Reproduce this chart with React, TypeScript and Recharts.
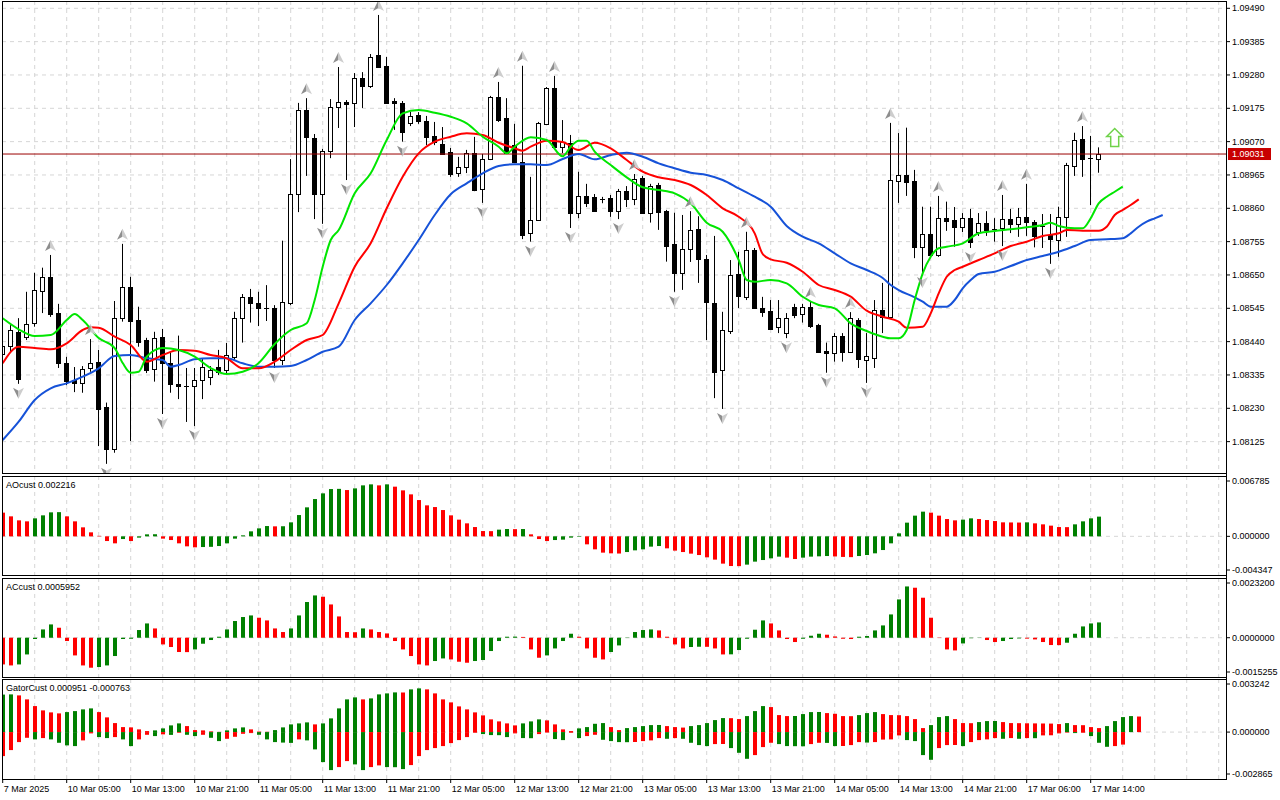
import React from "react";
import {
  ComposedChart,
  Bar,
  Line,
  Scatter,
  XAxis,
  YAxis,
  CartesianGrid,
  ReferenceLine,
} from "recharts";

const FONT = "'Liberation Sans', Arial, sans-serif";
const UP = "#008000";
const DOWN = "#ff0000";
const GRID = "#d6d6d6";
const X_DOMAIN: [number, number] = [-0.0875, 152.9125];

// EURUSD H1 candles, bar 0 = 7 Mar 21:00
const opens = [
  1.08401, 1.08427, 1.08471, 1.08455, 1.08499, 1.086, 1.08644, 1.0853, 1.08373, 1.08319,
  1.0831, 1.08357, 1.08376, 1.08234, 1.08102, 1.08514, 1.08612, 1.08508, 1.08445, 1.08354,
  1.08455, 1.08373, 1.08307, 1.083, 1.083, 1.08319, 1.08329, 1.0836, 1.08351, 1.08392,
  1.08514, 1.08581, 1.08562, 1.08547, 1.08546, 1.08382, 1.08562, 1.08905, 1.0917, 1.09082,
  1.08905, 1.09041, 1.09179, 1.09195, 1.09192, 1.0927, 1.09246, 1.09343, 1.09308, 1.09198,
  1.09192, 1.0913, 1.09154, 1.09136, 1.09088, 1.09063, 1.09038, 1.08971, 1.0899, 1.09034,
  1.08921, 1.09015, 1.09211, 1.09144, 1.09059, 1.09007, 1.08782, 1.08823, 1.09126, 1.09239,
  1.09054, 1.09066, 1.08845, 1.089, 1.08896, 1.08889, 1.08892, 1.08852, 1.08914, 1.08889,
  1.08955, 1.08846, 1.08933, 1.08852, 1.08748, 1.08656, 1.08732, 1.08795, 1.087, 1.08563,
  1.08351, 1.08473, 1.08653, 1.08581, 1.08729, 1.08546, 1.08536, 1.08487, 1.08467, 1.08549,
  1.08527, 1.08549, 1.08492, 1.0841, 1.08403, 1.08459, 1.08408, 1.08508, 1.08382, 1.08389,
  1.0854, 1.08518, 1.08947, 1.08965, 1.08947, 1.08739, 1.08779, 1.08713, 1.08829, 1.08823,
  1.08801, 1.08829, 1.08785, 1.08814, 1.08795, 1.08798, 1.08826, 1.08811, 1.08833, 1.08818,
  1.08804, 1.08776, 1.08762, 1.08833, 1.08994, 1.09078, 1.0902, 1.09014,
];
const highs = [
  1.08445, 1.08492, 1.08514, 1.08597, 1.08657, 1.08673, 1.08713, 1.08559, 1.08392, 1.0836,
  1.08363, 1.08448, 1.08414, 1.08248, 1.08568, 1.08748, 1.08644, 1.0855, 1.08452, 1.08471,
  1.0848, 1.08407, 1.08459, 1.08357, 1.08357, 1.08385, 1.08363, 1.08414, 1.08436, 1.08534,
  1.0859, 1.08606, 1.08597, 1.08618, 1.08555, 1.08758, 1.09015, 1.09192, 1.09207, 1.09094,
  1.09047, 1.09204, 1.09305, 1.09201, 1.09286, 1.09289, 1.09346, 1.09469, 1.09337, 1.09207,
  1.09198, 1.09164, 1.09163, 1.09151, 1.09132, 1.09116, 1.0905, 1.09022, 1.09044, 1.09085,
  1.09031, 1.09214, 1.09258, 1.09207, 1.09126, 1.09309, 1.08959, 1.09132, 1.09242, 1.09277,
  1.09138, 1.09091, 1.08975, 1.08937, 1.08905, 1.08896, 1.08902, 1.08921, 1.0893, 1.08968,
  1.08962, 1.08937, 1.0894, 1.08855, 1.08846, 1.08839, 1.08851, 1.08835, 1.08713, 1.08773,
  1.08534, 1.08697, 1.08723, 1.08786, 1.08735, 1.08581, 1.08571, 1.08571, 1.0853, 1.08559,
  1.08559, 1.08566, 1.08496, 1.08437, 1.08467, 1.08467, 1.08533, 1.08514, 1.08467, 1.08571,
  1.08625, 1.09129, 1.09097, 1.09114, 1.08981, 1.08865, 1.08865, 1.08899, 1.08881, 1.08864,
  1.08845, 1.08858, 1.08845, 1.08851, 1.08829, 1.08902, 1.08858, 1.08861, 1.08937, 1.08823,
  1.08842, 1.08842, 1.08865, 1.09003, 1.09098, 1.09119, 1.09088, 1.09052,
];
const lows = [
  1.08382, 1.0841, 1.08307, 1.08445, 1.08487, 1.0853, 1.08518, 1.08357, 1.08303, 1.08281,
  1.08279, 1.08345, 1.08111, 1.08055, 1.0809, 1.08503, 1.08127, 1.08424, 1.08341, 1.08314,
  1.08212, 1.08279, 1.08259, 1.08187, 1.08174, 1.08259, 1.08303, 1.08335, 1.08341, 1.08382,
  1.08437, 1.085, 1.08489, 1.08505, 1.08357, 1.08366, 1.08555, 1.08848, 1.08962, 1.08826,
  1.08811, 1.09018, 1.09113, 1.08949, 1.09116, 1.09176, 1.09239, 1.09302, 1.09192, 1.09107,
  1.0907, 1.09119, 1.09126, 1.09059, 1.09059, 1.09031, 1.08959, 1.08959, 1.08971, 1.08914,
  1.08877, 1.09012, 1.09132, 1.09031, 1.09003, 1.08763, 1.08755, 1.0882, 1.09122, 1.0905,
  1.09034, 1.08798, 1.08829, 1.08864, 1.08851, 1.08876, 1.08833, 1.08826, 1.08864, 1.0887,
  1.08844, 1.08815, 1.08792, 1.08692, 1.08597, 1.08603, 1.08691, 1.08625, 1.08445, 1.08262,
  1.08228, 1.08464, 1.08546, 1.08571, 1.08544, 1.08518, 1.08477, 1.08467, 1.08451, 1.08514,
  1.085, 1.08483, 1.08405, 1.08342, 1.08377, 1.08377, 1.08407, 1.08357, 1.0831, 1.08357,
  1.08467, 1.08514, 1.08877, 1.08899, 1.08703, 1.08656, 1.08703, 1.08707, 1.08789, 1.08739,
  1.08785, 1.08735, 1.08773, 1.08773, 1.08755, 1.08741, 1.08782, 1.0877, 1.08773, 1.08737,
  1.08735, 1.08685, 1.08707, 1.0877, 1.08962, 1.08959, 1.0887, 1.08972,
];
const closes = [
  1.08426, 1.08477, 1.08322, 1.08496, 1.08603, 1.08644, 1.08527, 1.08373, 1.08316, 1.08308,
  1.08354, 1.08373, 1.08228, 1.08102, 1.08514, 1.08612, 1.08506, 1.0844, 1.08351, 1.08451,
  1.08373, 1.08307, 1.08301, 1.08299, 1.08319, 1.0836, 1.08351, 1.08345, 1.08398, 1.08514,
  1.08581, 1.08562, 1.08546, 1.08544, 1.08382, 1.08565, 1.08905, 1.0917, 1.09085, 1.08905,
  1.09041, 1.09179, 1.09195, 1.09189, 1.0927, 1.09246, 1.09337, 1.09306, 1.09193, 1.09191,
  1.09101, 1.09152, 1.09136, 1.09085, 1.0907, 1.09033, 1.08968, 1.0899, 1.09034, 1.08918,
  1.09015, 1.09211, 1.09138, 1.09035, 1.09007, 1.08776, 1.08823, 1.09129, 1.09239, 1.09054,
  1.0907, 1.08845, 1.08899, 1.08877, 1.08852, 1.08888, 1.08852, 1.08914, 1.08889, 1.08952,
  1.08846, 1.0893, 1.08849, 1.08742, 1.08656, 1.08732, 1.08792, 1.087, 1.08565, 1.08345,
  1.08477, 1.0865, 1.08585, 1.08729, 1.08546, 1.08534, 1.0848, 1.08514, 1.08514, 1.08524,
  1.08549, 1.0849, 1.08408, 1.08403, 1.08458, 1.08408, 1.08514, 1.08385, 1.08395, 1.0854,
  1.08518, 1.08949, 1.08965, 1.08944, 1.08738, 1.08779, 1.08713, 1.08829, 1.08818, 1.08801,
  1.08829, 1.08754, 1.08814, 1.08792, 1.08794, 1.08826, 1.08811, 1.08833, 1.08818, 1.08774,
  1.08803, 1.08762, 1.08833, 1.08996, 1.09075, 1.09015, 1.09018, 1.09031,
];

// Alligator lines: [bar, price]
const lips: [number, number][] = [
  [0, 1.085135], [2, 1.084788], [4, 1.084577], [6, 1.084609], [8, 1.085081], [9, 1.08527], [10, 1.085081],
  [12, 1.084514], [14, 1.084199], [15, 1.083727], [16, 1.083421], [17, 1.083452], [18, 1.083925], [20, 1.084199],
  [22, 1.084136], [24, 1.083925], [26, 1.083569], [28, 1.08338], [30, 1.083452], [32, 1.083727], [34, 1.084325],
  [36, 1.084766], [38, 1.084977], [39, 1.085711], [40, 1.08676], [41, 1.087601], [42, 1.087916], [44, 1.089072],
  [46, 1.089702], [48, 1.090751], [50, 1.091592], [52, 1.091696], [54, 1.091611], [56, 1.091485], [58, 1.091277],
  [60, 1.090855], [62, 1.09054], [63, 1.090332], [64, 1.09054], [66, 1.090836], [68, 1.090751], [70, 1.090238],
  [71, 1.09054], [72, 1.090729], [73, 1.090729], [74, 1.090382], [76, 1.089963], [78, 1.089576], [80, 1.089261],
  [82, 1.089176], [84, 1.089072], [86, 1.088757], [88, 1.088146], [90, 1.087862], [92, 1.086971], [93, 1.086341],
  [94, 1.086287], [96, 1.086341], [98, 1.086237], [100, 1.085815], [102, 1.085553], [104, 1.08545], [106, 1.084977],
  [108, 1.084734], [110, 1.084555], [111, 1.084505], [112, 1.084505], [113, 1.084766], [114, 1.085711], [115, 1.086552],
  [116, 1.087075], [117, 1.08734], [118, 1.08739], [120, 1.087497], [122, 1.087812], [124, 1.087884], [126, 1.087938],
  [128, 1.088001], [130, 1.088073], [131, 1.088146], [132, 1.088042], [134, 1.08797], [135, 1.08797], [136, 1.088285],
  [137, 1.088757], [138, 1.088965], [139, 1.089122], [140, 1.08928],
];
const teeth: [number, number][] = [
  [0, 1.083717], [2, 1.08424], [4, 1.084199], [6, 1.084158], [8, 1.084347], [10, 1.084766], [11, 1.084851],
  [12, 1.084838], [14, 1.084555], [16, 1.084294], [18, 1.083767], [20, 1.083979], [22, 1.084136], [24, 1.084114],
  [26, 1.083979], [28, 1.083875], [30, 1.08356], [32, 1.08356], [34, 1.083767], [36, 1.084136], [38, 1.084451],
  [40, 1.084609], [42, 1.085607], [44, 1.08676], [46, 1.087497], [48, 1.0886], [50, 1.089595], [52, 1.090332],
  [54, 1.090697], [56, 1.090855], [58, 1.090962], [60, 1.090909], [62, 1.090666], [64, 1.09049], [65, 1.090414],
  [66, 1.09054], [68, 1.090729], [70, 1.090688], [72, 1.090436], [74, 1.090666], [76, 1.09049], [78, 1.090121],
  [80, 1.089752], [82, 1.089576], [84, 1.089491], [86, 1.089334], [88, 1.089019], [90, 1.0886], [92, 1.088335],
  [94, 1.087812], [95, 1.08716], [96, 1.086993], [98, 1.086886], [100, 1.086602], [102, 1.086184], [104, 1.086026],
  [106, 1.085815], [108, 1.085374], [110, 1.085185], [112, 1.085027], [113, 1.084838], [115, 1.08487], [116, 1.085292],
  [117, 1.085922], [118, 1.086445], [119, 1.086656], [120, 1.08676], [122, 1.086971], [124, 1.087182], [126, 1.087412],
  [128, 1.087547], [130, 1.087727], [132, 1.087812], [133, 1.087916], [135, 1.087894], [137, 1.087894], [138, 1.08802],
  [139, 1.088389], [140, 1.088546], [141, 1.088704], [142, 1.088883],
];
const jaw: [number, number][] = [
  [0, 1.081301], [2, 1.081877], [4, 1.082561], [6, 1.08293], [8, 1.083087], [10, 1.083295], [12, 1.08356],
  [14, 1.083947], [16, 1.083979], [18, 1.083875], [20, 1.083821], [21, 1.08361], [22, 1.083664], [24, 1.083843],
  [26, 1.083875], [28, 1.083875], [30, 1.083717], [32, 1.08361], [34, 1.08361], [36, 1.083632], [38, 1.083821],
  [40, 1.084082], [42, 1.08424], [44, 1.085081], [46, 1.085607], [48, 1.086184], [50, 1.086867], [52, 1.087601],
  [54, 1.088389], [56, 1.089041], [58, 1.089387], [60, 1.089702], [62, 1.089932], [64, 1.089986], [66, 1.089986],
  [68, 1.089964], [70, 1.090153], [72, 1.09031], [74, 1.090143], [76, 1.090279], [78, 1.090351], [80, 1.090225],
  [82, 1.090017], [84, 1.08986], [86, 1.089721], [88, 1.089649], [90, 1.089491], [92, 1.08923], [94, 1.088965],
  [96, 1.08865], [98, 1.088042], [100, 1.087705], [102, 1.087497], [104, 1.087182], [106, 1.086867], [108, 1.086656],
  [110, 1.086404], [111, 1.086184], [112, 1.086026], [114, 1.085796], [115, 1.085657], [116, 1.0855], [118, 1.0855],
  [119, 1.085711], [120, 1.08608], [121, 1.086341], [122, 1.08653], [124, 1.086602], [126, 1.086782], [128, 1.086971],
  [130, 1.087097], [132, 1.087232], [134, 1.087412], [136, 1.087601], [138, 1.087623], [140, 1.087655], [141, 1.087812],
  [142, 1.08802], [143, 1.088177], [144, 1.088285], [145, 1.088389],
];

const fractalUpBars = [6, 11, 15, 38, 42, 47, 62, 65, 69, 79, 86, 93, 101, 106, 111, 117, 125, 128, 135];
const fractalDownBars = [2, 13, 20, 24, 34, 40, 43, 50, 60, 66, 71, 77, 84, 90, 98, 103, 108, 115, 121, 125, 131];
const signalArrows = [{ i: 139, price: 1.09083 }];
const bidPrice = 1.09031;

const priceTicks = [
  1.0949, 1.09385, 1.0928, 1.09175, 1.0907, 1.08965, 1.0886, 1.08755, 1.0865, 1.08545, 1.0844, 1.08335, 1.0823, 1.08125,
];
const timeLabels = [
  "7 Mar 2025", "10 Mar 05:00", "10 Mar 13:00", "10 Mar 21:00", "11 Mar 05:00", "11 Mar 13:00",
  "11 Mar 21:00", "12 Mar 05:00", "12 Mar 13:00", "12 Mar 21:00", "13 Mar 05:00", "13 Mar 13:00",
  "13 Mar 21:00", "14 Mar 05:00", "14 Mar 13:00", "14 Mar 21:00", "17 Mar 06:00", "17 Mar 14:00",
];

const aoValues = [
  0.002664, 0.002248, 0.001798, 0.001686, 0.002023, 0.00236, 0.002698, 0.00272, 0.002248, 0.001686,
  0.001012, 0.00045, 0.000056, -0.000528, -0.000787, -0.000303, -0.000528, -0.000146, 0.000225, 0.000236,
  -0.000259, -0.000416, -0.000787, -0.001124, -0.001236, -0.001203, -0.00118, -0.00109, -0.000787, -0.000259,
  0.000112, 0.000562, 0.000899, 0.001158, 0.001124, 0.001135, 0.001574, 0.002394, 0.00326, 0.004193,
  0.004833, 0.005317, 0.005339, 0.005204, 0.005395, 0.005732, 0.005845, 0.005732, 0.005845, 0.005586,
  0.00517, 0.004721, 0.00408, 0.003484, 0.003293, 0.002956, 0.00236, 0.001877, 0.001461, 0.001045,
  0.000596, 0.000584, 0.000753, 0.000821, 0.000809, 0.000821, 0.000225, -0.000303, -0.000528, -0.000416,
  -0.000371, -0.000146, -0.000056, -0.000899, -0.001461, -0.001832, -0.001911, -0.001933, -0.001765, -0.001574,
  -0.001461, -0.001158, -0.00109, -0.001349, -0.001607, -0.001765, -0.001945, -0.002102, -0.00236, -0.002619,
  -0.003069, -0.003338, -0.00335, -0.003181, -0.002844, -0.002664, -0.002473, -0.002282, -0.002394, -0.002551,
  -0.002394, -0.002282, -0.002248, -0.002214, -0.002259, -0.002315, -0.002338, -0.002214, -0.002102, -0.001911,
  -0.00154, -0.000787, 0.000337, 0.00154, 0.002327, 0.002776, 0.002664, 0.002327, 0.001945, 0.001798,
  0.001877, 0.002023, 0.001945, 0.001832, 0.00172, 0.001574, 0.001562, 0.001551, 0.001574, 0.001461,
  0.001349, 0.001203, 0.001045, 0.001034, 0.001349, 0.001686, 0.002023, 0.002216,
];
const acValues = [
  -0.001037, -0.001076, -0.001037, -0.000649, -0.00005, 0.000322, 0.000517, 0.000388, -0.000128, -0.000687,
  -0.001076, -0.001165, -0.001138, -0.001076, -0.000711, -0.00005, -0.000039, 0.000299, 0.000555, 0.000361,
  -0.00026, -0.000361, -0.000555, -0.000559, -0.000454, -0.000233, -0.000089, 0.000039, 0.000322, 0.000649,
  0.000804, 0.000866, 0.000777, 0.000672, 0.000361, 0.000221, 0.000361, 0.000866, 0.001387, 0.001643,
  0.001592, 0.001293, 0.000827, 0.000221, 0.000214, 0.000361, 0.000322, 0.000221, 0.000167, -0.000128,
  -0.000454, -0.000711, -0.001037, -0.001076, -0.000905, -0.000804, -0.000843, -0.000932, -0.000971, -0.000905,
  -0.000866, -0.000517, -0.000128, 0.000039, 0.000043, 0.000031, -0.000454, -0.000777, -0.000687, -0.000416,
  -0.000128, 0.000155, 0.000039, -0.000416, -0.000777, -0.000843, -0.000555, -0.000299, -0.000012, 0.000221,
  0.000299, 0.000322, 0.000284, 0.000039, -0.00026, -0.000416, -0.000361, -0.00035, -0.000353, -0.000416,
  -0.000649, -0.000645, -0.000478, -0.000039, 0.000311, 0.000672, 0.000555, 0.000284, -0.00005, -0.000167,
  -0.000039, 0.000078, 0.000155, 0.000117, 0.00005, -0.000039, -0.00005, 0.000039, 0.000066, 0.000284,
  0.000478, 0.000905, 0.001488, 0.001992, 0.001942, 0.001554, 0.000777, -0.000012, -0.000454, -0.000493,
  -0.000221, -0.000019, -0.000008, -0.000089, -0.000167, -0.000128, -0.00005, -0.000027, -0.000035, -0.000066,
  -0.000167, -0.000284, -0.000287, -0.000194, 0.000155, 0.000439, 0.000555, 0.000595,
];
const gatorUpper = [
  0.00229, 0.002302, 0.002241, 0.001997, 0.001588, 0.001325, 0.001203, 0.001142, 0.001221, 0.001282,
  0.001386, 0.001447, 0.001221, 0.000898, 0.00055, 0.000305, 0.000287, 0.000165, 0.000061, 0.000104,
  0.000226, 0.000409, 0.000531, 0.000366, 0.000122, 0.000104, 0.000043, 0.000012, 0.000104, 0.000226,
  0.000287, 0.000165, 0.000031, 0.000018, 0.000122, 0.000287, 0.00047, 0.000531, 0.000592, 0.00047,
  0.000531, 0.000837, 0.001447, 0.001997, 0.002119, 0.001997, 0.002058, 0.002302, 0.002363, 0.002424,
  0.002418, 0.002608, 0.002669, 0.002608, 0.002363, 0.001997, 0.001814, 0.001569, 0.001386, 0.001203,
  0.00102, 0.000776, 0.000653, 0.000531, 0.000409, 0.000531, 0.000653, 0.000776, 0.000715, 0.00047,
  0.000165, 0.000061, 0.000226, 0.000305, 0.000507, 0.00055, 0.000305, 0.000122, 0.000244, 0.000305,
  0.000366, 0.000427, 0.000434, 0.000366, 0.000305, 0.000275, 0.000366, 0.000427, 0.00055, 0.000733,
  0.000855, 0.000849, 0.000794, 0.000977, 0.001282, 0.001588, 0.001527, 0.001038, 0.000977, 0.000983,
  0.001099, 0.001221, 0.001228, 0.00116, 0.001118, 0.000977, 0.000971, 0.001038, 0.00116, 0.001221,
  0.001099, 0.001038, 0.001032, 0.000977, 0.000794, 0.000244, 0.000427, 0.000916, 0.000977, 0.000794,
  0.00055, 0.000544, 0.000611, 0.000672, 0.000678, 0.000611, 0.00055, 0.000544, 0.000537, 0.000531,
  0.000525, 0.000519, 0.000489, 0.00055, 0.000427, 0.000421, 0.000305, 0.000244, 0.000366, 0.000672,
  0.000916, 0.000977, 0.000951,
];
const gatorLower = [
  -0.001466, -0.001099, -0.000611, -0.000348, -0.000446, -0.000366, -0.000446, -0.000653, -0.000812, -0.000855,
  -0.000507, -0.000079, -0.000305, -0.000366, -0.000305, -0.000446, -0.000855, -0.000446, -0.000165, -0.000244,
  -0.00014, -0.000171, -0.000043, -0.000165, -0.000244, -0.000165, -0.000348, -0.00055, -0.000409, -0.000287,
  -0.000104, -0.000061, -0.000165, -0.000446, -0.000611, -0.000641, -0.00066, -0.000446, -0.000507, -0.001057,
  -0.001832, -0.002321, -0.002137, -0.001771, -0.001973, -0.002321, -0.002137, -0.002034, -0.002137, -0.002144,
  -0.00226, -0.002015, -0.001466, -0.001099, -0.000977, -0.000855, -0.000672, -0.000489, -0.000305, -0.000043,
  -0.000122, -0.000183, -0.000189, -0.000305, -0.000079, -0.000366, -0.000373, -0.000122, -0.000031, -0.000427,
  -0.000489, -0.000043, -0.000366, -0.000244, -0.000165, -0.00047, -0.00055, -0.000611, -0.000617, -0.000605,
  -0.00055, -0.000507, -0.000366, -0.000409, -0.000366, -0.000409, -0.000653, -0.000794, -0.000855, -0.000733,
  -0.000727, -0.000977, -0.001264, -0.001631, -0.001405, -0.000916, -0.000653, -0.000733, -0.000855, -0.000861,
  -0.000867, -0.000733, -0.000653, -0.00066, -0.000855, -0.000849, -0.000794, -0.000611, -0.000641, -0.000611,
  -0.000458, -0.000446, -0.000202, -0.000489, -0.00055, -0.001405, -0.001692, -0.000977, -0.000794, -0.000788,
  -0.000855, -0.000611, -0.000489, -0.000446, -0.000366, -0.000409, -0.000366, -0.000409, -0.000366, -0.000373,
  -0.000202, -0.000195, -0.000079, -0.000031, -0.000061, -0.000043, -0.000244, -0.000653, -0.000898, -0.000855,
  -0.000763,
];

// pane scales, as printed on the right edge of each pane
const aoDomain: [number, number] = [-0.004347, 0.006785];
const acDomain: [number, number] = [-0.0015255, 0.00232];
const gatorDomain: [number, number] = [-0.002865, 0.003242];

const gridBars = Array.from({ length: 38 }, (_, k) => 4 * (k + 1));
const timeTicks = timeLabels.map((_, k) => k * 8);

const lipsAt = new Map(lips);
const teethAt = new Map(teeth);
const jawAt = new Map(jaw);

const priceRows = Array.from({ length: 146 }, (_, i) => {
  const row: any = { i };
  if (i < opens.length) {
    row.o = opens[i];
    row.h = highs[i];
    row.l = lows[i];
    row.c = closes[i];
    row.range = [lows[i], highs[i]];
  }
  if (lipsAt.has(i)) row.lips = lipsAt.get(i);
  if (teethAt.has(i)) row.teeth = teethAt.get(i);
  if (jawAt.has(i)) row.jaw = jawAt.get(i);
  return row;
});

const upFractals = fractalUpBars.map((i) => ({ i, price: highs[i] }));
const downFractals = fractalDownBars.map((i) => ({ i, price: lows[i] }));

const aoRows = aoValues.map((v, i) => ({ i, v }));
const acRows = acValues.map((v, i) => ({ i, v }));
const gatorRows = gatorUpper.map((u, i) => ({ i, u, d: gatorLower[i] ?? 0 }));

// green when the bar grows compared with the previous one
function trendColors(values: number[], first: string, magnitude = false) {
  return values.map((v, k) => {
    if (k === 0) return first;
    const a = magnitude ? Math.abs(v) : v;
    const b = magnitude ? Math.abs(values[k - 1]) : values[k - 1];
    return a > b ? UP : DOWN;
  });
}

const aoColors = trendColors(aoValues, DOWN);
const acColors = trendColors(acValues, DOWN);
const upperColors = trendColors(gatorUpper, UP, true);
const lowerColors = trendColors(gatorLower, DOWN, true);

function Candle(props: any) {
  const { x, y, width, height, payload } = props;
  if (!payload || payload.o == null || !height) return <g />;
  const { o, h, l, c } = payload;
  const py = (v: number) => y + ((h - v) / (h - l)) * height;
  const cx = Math.floor(x + width / 2) + 0.5;
  const top = py(Math.max(o, c));
  const bottom = py(Math.min(o, c));
  const bull = c > o;
  return (
    <g>
      <line x1={cx} x2={cx} y1={y} y2={y + height} stroke="#000" strokeWidth={1} />
      {bottom - top < 1 ? (
        <line x1={cx - 2.5} x2={cx + 2.5} y1={Math.round(top) + 0.5} y2={Math.round(top) + 0.5} stroke="#000" />
      ) : (
        <rect
          x={cx - 2}
          y={Math.round(top) + 0.5}
          width={4}
          height={Math.max(1, Math.round(bottom - top))}
          fill={bull ? "#fff" : "#000"}
          stroke="#000"
          strokeWidth={1}
        />
      )}
    </g>
  );
}

function HistBar(props: any) {
  const { x, y, width, height, color } = props;
  if (!height) return <g />;
  const top = Math.min(y, y + height);
  return <rect x={Math.round(x)} y={top} width={width} height={Math.abs(height)} fill={color} />;
}

function FractalUp({ cx, cy }: any) {
  if (cx == null) return <g />;
  const x = Math.floor(cx) + 0.5;
  const tip = cy - 15;
  const base = cy - 4;
  return (
    <g>
      <polygon points={`${x},${tip} ${x - 5.5},${base} ${x},${base - 3}`} fill="#8e8e8e" />
      <polygon points={`${x},${tip} ${x + 5.5},${base} ${x},${base - 3}`} fill="#cdcdcd" />
    </g>
  );
}

function FractalDown({ cx, cy }: any) {
  if (cx == null) return <g />;
  const x = Math.floor(cx) + 0.5;
  const tip = cy + 15;
  const base = cy + 4;
  return (
    <g>
      <polygon points={`${x},${tip} ${x - 5.5},${base} ${x},${base + 3}`} fill="#8e8e8e" />
      <polygon points={`${x},${tip} ${x + 5.5},${base} ${x},${base + 3}`} fill="#cdcdcd" />
    </g>
  );
}

function SignalArrow({ cx, cy }: any) {
  if (cx == null) return <g />;
  const p = [
    [0, -9], [8, -1], [4, -1], [4, 9], [-4, 9], [-4, -1], [-8, -1],
  ]
    .map(([dx, dy]) => `${cx + dx},${cy + dy}`)
    .join(" ");
  return <polygon points={p} fill="#fff" stroke="#6fd24a" strokeWidth={1.5} />;
}

function PriceTick({ x, y, payload }: any) {
  return (
    <g>
      <line x1={x} x2={x + 4} y1={y} y2={y} stroke="#000" />
      <text x={x + 6} y={y + 3} fontSize={9} fontFamily={FONT} fill="#000">
        {Number(payload.value).toFixed(5)}
      </text>
    </g>
  );
}

function makeSideTick(domain: [number, number], digits: number) {
  return function SideTick({ x, y, payload }: any) {
    const v = Number(payload.value);
    const dy = v === domain[1] ? 5 : v === domain[0] ? -5 : 0;
    return (
      <g>
        <line x1={x} x2={x + 4} y1={y + dy} y2={y + dy} stroke="#000" />
        <text x={x + 6} y={y + dy + 3} fontSize={9} fontFamily={FONT} fill="#000">
          {v.toFixed(digits)}
        </text>
      </g>
    );
  };
}

function TimeTick({ x, y, payload }: any) {
  const label = timeLabels[Math.round(payload.value / 8)];
  return (
    <g>
      <line x1={x} x2={x} y1={y} y2={y + 4} stroke="#000" />
      <text x={x + 1} y={y + 13} fontSize={9} fontFamily={FONT} fill="#000">
        {label}
      </text>
    </g>
  );
}

function BidTag({ viewBox }: any) {
  if (!viewBox) return <g />;
  const x = viewBox.x + viewBox.width + 2;
  const y = viewBox.y;
  return (
    <g>
      <rect x={x} y={y - 6} width={43} height={12} fill="#c80000" />
      <text x={x + 4} y={y + 3} fontSize={9} fontFamily={FONT} fill="#fff">
        {bidPrice.toFixed(5)}
      </text>
    </g>
  );
}

function PricePane() {
  return (
    <ComposedChart width={1280} height={474} data={priceRows} margin={{ top: 1, right: 0, bottom: 1, left: 2 }}>
      <CartesianGrid stroke={GRID} strokeDasharray="4 4" verticalValues={gridBars} horizontalValues={priceTicks} />
      <XAxis dataKey="i" type="number" domain={X_DOMAIN} allowDataOverflow hide />
      <YAxis
        orientation="right"
        type="number"
        domain={[1.080262, 1.09513]}
        allowDataOverflow
        ticks={priceTicks}
        interval={0}
        width={54}
        axisLine={false}
        tickLine={false}
        tickSize={0}
        tickMargin={0}
        tick={<PriceTick />}
      />
      <ReferenceLine y={bidPrice} stroke="#9a0000" strokeWidth={1} label={<BidTag />} />
      <Bar dataKey="range" barSize={5} shape={<Candle />} isAnimationActive={false} />
      <Line dataKey="jaw" type="monotone" stroke="#1652d8" strokeWidth={2} dot={false} connectNulls isAnimationActive={false} />
      <Line dataKey="teeth" type="monotone" stroke="#ff0000" strokeWidth={2} dot={false} connectNulls isAnimationActive={false} />
      <Line dataKey="lips" type="monotone" stroke="#00e600" strokeWidth={2} dot={false} connectNulls isAnimationActive={false} />
      <Scatter data={upFractals} dataKey="price" shape={<FractalUp />} isAnimationActive={false} />
      <Scatter data={downFractals} dataKey="price" shape={<FractalDown />} isAnimationActive={false} />
      <Scatter data={signalArrows} dataKey="price" shape={<SignalArrow />} isAnimationActive={false} />
    </ComposedChart>
  );
}

function HistogramPane({ rows, colors, domain, digits }: any) {
  const SideTick = makeSideTick(domain, digits);
  return (
    <ComposedChart width={1280} height={99} data={rows} margin={{ top: 0, right: 0, bottom: 0, left: 2 }}>
      <CartesianGrid stroke={GRID} strokeDasharray="4 4" verticalValues={gridBars} horizontalValues={[0]} />
      <XAxis dataKey="i" type="number" domain={X_DOMAIN} allowDataOverflow hide />
      <YAxis
        orientation="right"
        type="number"
        domain={domain}
        allowDataOverflow
        ticks={[domain[0], 0, domain[1]]}
        interval={0}
        width={54}
        axisLine={false}
        tickLine={false}
        tickSize={0}
        tickMargin={0}
        tick={<SideTick />}
      />
      <Bar
        dataKey="v"
        barSize={4}
        shape={(p: any) => <HistBar {...p} color={colors[p.index]} />}
        isAnimationActive={false}
      />
    </ComposedChart>
  );
}

function GatorPane() {
  const SideTick = makeSideTick(gatorDomain, 6);
  return (
    <ComposedChart
      width={1280}
      height={121}
      data={gatorRows}
      stackOffset="sign"
      margin={{ top: 0, right: 0, bottom: 0, left: 2 }}
    >
      <CartesianGrid stroke={GRID} strokeDasharray="4 4" verticalValues={gridBars} horizontalValues={[0]} />
      <XAxis
        dataKey="i"
        type="number"
        domain={X_DOMAIN}
        allowDataOverflow
        ticks={timeTicks}
        interval={0}
        height={21}
        axisLine={false}
        tickLine={false}
        tickSize={0}
        tickMargin={0}
        tick={<TimeTick />}
      />
      <YAxis
        orientation="right"
        type="number"
        domain={gatorDomain}
        allowDataOverflow
        ticks={[gatorDomain[0], 0, gatorDomain[1]]}
        interval={0}
        width={54}
        axisLine={false}
        tickLine={false}
        tickSize={0}
        tickMargin={0}
        tick={<SideTick />}
      />
      <Bar
        dataKey="u"
        stackId="gator"
        barSize={4}
        shape={(p: any) => <HistBar {...p} color={upperColors[p.index]} />}
        isAnimationActive={false}
      />
      <Bar
        dataKey="d"
        stackId="gator"
        barSize={4}
        shape={(p: any) => <HistBar {...p} color={lowerColors[p.index]} />}
        isAnimationActive={false}
      />
    </ComposedChart>
  );
}

const panes = [
  { top: 1, bottom: 473, title: "" },
  { top: 476, bottom: 575, title: "AOcust 0.002216" },
  { top: 578, bottom: 677, title: "ACcust 0.0005952" },
  { top: 679, bottom: 779, title: "GatorCust 0.000951 -0.000763" },
];

export default function App() {
  return (
    <div style={{ position: "relative", width: 1280, height: 800, background: "#fff", overflow: "hidden", fontFamily: FONT }}>
      <style>{"body{margin:0}"}</style>
      <div style={{ position: "absolute", left: 0, top: 0 }}>
        <PricePane />
      </div>
      <div style={{ position: "absolute", left: 0, top: 476 }}>
        <HistogramPane rows={aoRows} colors={aoColors} domain={aoDomain} digits={6} />
      </div>
      <div style={{ position: "absolute", left: 0, top: 578 }}>
        <HistogramPane rows={acRows} colors={acColors} domain={acDomain} digits={7} />
      </div>
      <div style={{ position: "absolute", left: 0, top: 679 }}>
        <GatorPane />
      </div>
      <svg width={1280} height={800} style={{ position: "absolute", left: 0, top: 0, pointerEvents: "none" }}>
        {panes.map((p) => (
          <g key={p.top}>
            <rect x={2.5} y={p.top + 0.5} width={1224} height={p.bottom - p.top} fill="none" stroke="#000" />
            {p.title && (
              <text x={6} y={p.top + 12} fontSize={9} fontFamily={FONT} fill="#000">
                {p.title}
              </text>
            )}
          </g>
        ))}
        <line x1={1226.5} x2={1226.5} y1={1} y2={780} stroke="#000" />
      </svg>
    </div>
  );
}
